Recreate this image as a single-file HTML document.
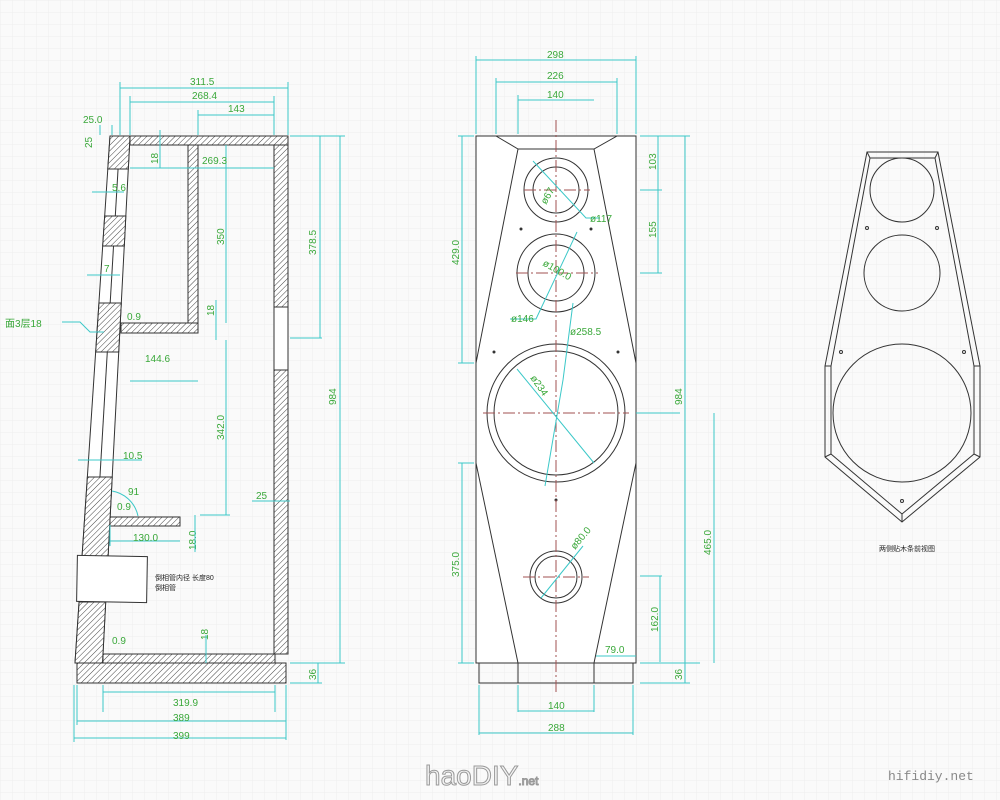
<!DOCTYPE html>
<html><head><meta charset="utf-8"><style>
html,body{margin:0;padding:0;background:#fafafa;}
svg{display:block}
.d{stroke:#3cc8c8;stroke-width:1;fill:none}
.t{fill:#3aa83a;font-family:"Liberation Sans",sans-serif;font-size:10px}
.o{stroke:#333;stroke-width:1;fill:none}
.w{stroke:#333;stroke-width:1;fill:#fff}
.h{stroke:#333;stroke-width:1;fill:url(#hat)}
.c{stroke:#a05050;stroke-width:1;stroke-dasharray:12 3 2 3;fill:none}
</style></head><body>
<svg width="1000" height="800" viewBox="0 0 1000 800" xmlns="http://www.w3.org/2000/svg">
<defs>
<pattern id="hat" width="4" height="4" patternUnits="userSpaceOnUse" patternTransform="rotate(45)"><rect width="4" height="4" fill="#fff"/><line x1="0" y1="0" x2="0" y2="4" stroke="#444" stroke-width="1"/></pattern>
<pattern id="grid" width="12" height="12" patternUnits="userSpaceOnUse"><path d="M12 0H0V12" fill="none" stroke="#eeeeee" stroke-width="1"/></pattern>
</defs>
<rect width="1000" height="800" fill="#fafafa"/>
<rect width="1000" height="800" fill="url(#grid)"/>

<!-- LEFT SIDE VIEW -->
<polygon class="w" points="110,136 130,136 102.5,663 75,663"/>
<line class="o" x1="120" y1="136" x2="89" y2="663"/>
<polygon class="h" points="130,136 288,136 288,145 130,145"/>
<polygon class="h" points="110,136 130,136 128.3,169 107.8,169"/>
<polygon class="h" points="104.7,216 125.8,216 124.3,246 102.7,246"/>
<polygon class="h" points="99,303 121.3,303 118.7,352 95.7,352"/>
<polygon class="h" points="87.4,477 112.2,477 108.1,556 82.1,556"/>
<polygon class="h" points="79.1,602 105.7,602 102.5,663 75,663"/>
<rect class="h" x="274" y="145" width="14" height="162"/>
<rect class="w" x="274" y="307" width="14" height="63"/>
<rect class="h" x="274" y="370" width="14" height="284"/>
<rect class="h" x="188" y="145" width="10" height="178"/>
<rect class="h" x="121" y="323" width="77" height="10"/>
<rect class="w" x="77" y="556" width="70" height="46" transform="rotate(1 112 579)"/>
<rect class="h" x="103" y="654" width="172" height="9"/>
<rect class="h" x="110" y="517" width="70" height="9"/>
<rect class="h" x="77" y="663" width="209" height="20"/>
<text x="155" y="580" font-size="7" font-family="Liberation Sans,Noto Sans CJK SC,sans-serif" fill="#222">倒相管内径 长度80</text>
<text x="155" y="590" font-size="7" font-family="Liberation Sans,Noto Sans CJK SC,sans-serif" fill="#222">倒相管</text>
<text x="5" y="327" font-size="10" font-family="Liberation Sans,Noto Sans CJK SC,sans-serif" fill="#3aa83a">面3层18</text>
<path class="d" d="M62 322 H80 L90 332 H104"/>
<!-- left dims -->
<path class="d" d="M120 88H288 M120 82V135 M288 82V135"/><text class="t" x="190" y="85">311.5</text>
<path class="d" d="M130 102H274 M130 96V135 M274 96V135"/><text class="t" x="192" y="99">268.4</text>
<path class="d" d="M198 115H274 M198 110V135"/><text class="t" x="228" y="112">143</text>
<path class="d" d="M290 136H345 M290 338H322 M320 136V338 M340 136V663 M290 663H345 M290 683H322 M318 663V683"/>
<text class="t" transform="translate(316 255) rotate(-90)">378.5</text>
<text class="t" transform="translate(336 405) rotate(-90)">984</text>
<text class="t" transform="translate(316 680) rotate(-90)">36</text>
<path class="d" d="M226 145V323 M226 340V515 M200 515H230"/>
<text class="t" transform="translate(224 245) rotate(-90)">350</text>
<text class="t" transform="translate(224 440) rotate(-90)">342.0</text>
<path class="d" d="M130 168H274"/><text class="t" x="202" y="164" font-size="8">269.3</text>
<path class="d" d="M130 381H198"/><text class="t" x="145" y="362">144.6</text>
<text class="t" x="112" y="191">5.6</text><path class="d" d="M92 192H124"/>
<text class="t" x="104" y="272">7</text><path class="d" d="M87 275H120"/>
<text class="t" x="123" y="459">10.5</text><path class="d" d="M78 460H142"/>
<path class="d" d="M110 541H180 M110 546V525"/><text class="t" x="133" y="541">130.0</text>
<text class="t" transform="translate(196 550) rotate(-90)">18.0</text><path class="d" d="M195 515V552"/>
<text class="t" transform="translate(214 316) rotate(-90)">18</text><path class="d" d="M216 300V340"/>
<text class="t" x="256" y="499">25</text><path class="d" d="M252 501H290"/>
<text class="t" transform="translate(158 164) rotate(-90)">18</text><path class="d" d="M160 130V168"/>
<text class="t" transform="translate(208 640) rotate(-90)">18</text><path class="d" d="M206 635V663"/>
<text class="t" x="117" y="510" font-size="8">0.9</text><text class="t" x="127" y="320" font-size="8">0.9</text><text class="t" x="112" y="644" font-size="8">0.9</text>
<path class="d" d="M112 491 A32 32 0 0 1 138 516"/><text class="t" x="128" y="495" font-size="8">91</text>
<text class="t" x="83" y="123" font-size="8">25.0</text><path class="d" d="M100 125V135 M112 125V135"/>
<text class="t" transform="translate(92 148) rotate(-90)" font-size="8">25</text>
<path class="d" d="M103 692H275 M103 685V712 M275 685V712"/><text class="t" x="173" y="706">319.9</text>
<path class="d" d="M77 721H286 M77 685V725 M286 685V740"/><text class="t" x="173" y="721">389</text>
<path class="d" d="M74 738H286 M74 685V742"/><text class="t" x="173" y="739">399</text>

<!-- FRONT VIEW -->
<rect class="w" x="476" y="136" width="160" height="527"/>
<polygon class="o" points="496,136 518,149 594,149 617,136"/>
<polyline class="o" points="518,149 476,363 476,463 518,663"/>
<polyline class="o" points="594,149 636,363 636,463 594,663"/>
<rect class="o" x="479" y="663" width="154" height="20"/>
<line class="o" x1="518" y1="663" x2="518" y2="683"/><line class="o" x1="594" y1="663" x2="594" y2="683"/>
<circle class="o" cx="556" cy="190" r="32"/><circle class="o" cx="556" cy="190" r="23"/>
<circle class="o" cx="556" cy="273" r="39"/><circle class="o" cx="556" cy="273" r="28"/>
<circle class="o" cx="556" cy="413" r="69"/><circle class="o" cx="556" cy="413" r="62"/>
<circle class="o" cx="556" cy="577" r="26"/><circle class="o" cx="556" cy="577" r="21"/>
<g fill="#333"><circle cx="521" cy="229" r="1.5"/><circle cx="591" cy="229" r="1.5"/><circle cx="494" cy="352" r="1.5"/><circle cx="618" cy="352" r="1.5"/><circle cx="556" cy="500" r="1.5"/></g>
<line class="c" x1="556" y1="120" x2="556" y2="695"/>
<line class="c" x1="524" y1="190" x2="590" y2="190"/><line class="c" x1="516" y1="273" x2="598" y2="273"/>
<line class="c" x1="483" y1="413" x2="629" y2="413"/><line class="c" x1="523" y1="577" x2="589" y2="577"/>
<path class="d" d="M533 161L586 218H600 M577 232L536 319H510 M573 303L563 380 M517 369L594 463 M563 380L545 486 M583 546L541 598 M636 413H680"/>
<text class="t" x="590" y="222">ø117</text><text class="t" x="511" y="322">ø146</text><text class="t" x="570" y="335">ø258.5</text>
<text class="t" transform="translate(546 205) rotate(-60)">ø67</text>
<text class="t" transform="translate(542 265) rotate(30)">ø100.0</text>
<text class="t" transform="translate(530 378) rotate(55)">ø234</text>
<text class="t" transform="translate(575 550) rotate(-50)">ø80.0</text>
<path class="d" d="M476 60H636 M476 56V134 M636 56V134"/><text class="t" x="547" y="58">298</text>
<path class="d" d="M496 82H617 M496 78V134 M617 78V134"/><text class="t" x="547" y="79">226</text>
<path class="d" d="M518 100H594 M518 95V134"/><text class="t" x="547" y="98">140</text>
<path class="d" d="M458 136H474 M458 363H474 M462 136V363"/><text class="t" transform="translate(459 265) rotate(-90)">429.0</text>
<path class="d" d="M458 463H474 M458 663H474 M462 463V663"/><text class="t" transform="translate(459 577) rotate(-90)">375.0</text>
<path class="d" d="M640 136H690 M640 190H662 M658 136V273 M640 273H662"/>
<text class="t" transform="translate(656 170) rotate(-90)">103</text><text class="t" transform="translate(656 238) rotate(-90)">155</text>
<path class="d" d="M685 136V683 M640 663H700 M640 683H690"/><text class="t" transform="translate(682 405) rotate(-90)">984</text>
<text class="t" transform="translate(682 680) rotate(-90)">36</text>
<path class="d" d="M640 576H662 M660 576V662"/><text class="t" transform="translate(658 632) rotate(-90)">162.0</text>
<path class="d" d="M714 413V663"/><text class="t" transform="translate(711 555) rotate(-90)">465.0</text>
<path class="d" d="M596 656H636"/><text class="t" x="605" y="653">79.0</text>
<path class="d" d="M518 685V712 M518 711H594 M594 685V712"/><text class="t" x="548" y="709">140</text>
<path class="d" d="M479 685V735 M633 685V735 M479 733H633"/><text class="t" x="548" y="731">288</text>

<!-- RIGHT VIEW -->
<polygon class="o" points="867,152 938,152 980,366 980,457 902,522 825,457 825,366"/>
<polygon class="o" points="870,158 935,158 974,366 974,454 902,514 831,454 831,366"/>
<line class="o" x1="867" y1="152" x2="870" y2="158"/><line class="o" x1="938" y1="152" x2="935" y2="158"/>
<line class="o" x1="825" y1="366" x2="831" y2="366"/><line class="o" x1="980" y1="366" x2="974" y2="366"/>
<line class="o" x1="825" y1="457" x2="831" y2="454"/><line class="o" x1="980" y1="457" x2="974" y2="454"/>
<line class="o" x1="902" y1="522" x2="902" y2="514"/>
<circle class="o" cx="902" cy="190" r="32"/><circle class="o" cx="902" cy="273" r="38"/><circle class="o" cx="902" cy="413" r="69"/>
<g fill="none" stroke="#333"><circle cx="867" cy="228" r="1.5"/><circle cx="937" cy="228" r="1.5"/><circle cx="841" cy="352" r="1.5"/><circle cx="964" cy="352" r="1.5"/><circle cx="902" cy="501" r="1.5"/></g>
<text x="879" y="551" font-size="7" font-family="Liberation Sans,Noto Sans CJK SC,sans-serif" fill="#222">两侧贴木条前视图</text>

<text x="425" y="785" font-family="Liberation Sans,sans-serif" font-size="28" fill="#f4f4f4" stroke="#999" stroke-width="1">haoDIY<tspan font-size="12">.net</tspan></text>
<text x="888" y="780" font-family="Liberation Mono,monospace" font-size="13" fill="#888">hifidiy.net</text>
</svg>
</body></html>
